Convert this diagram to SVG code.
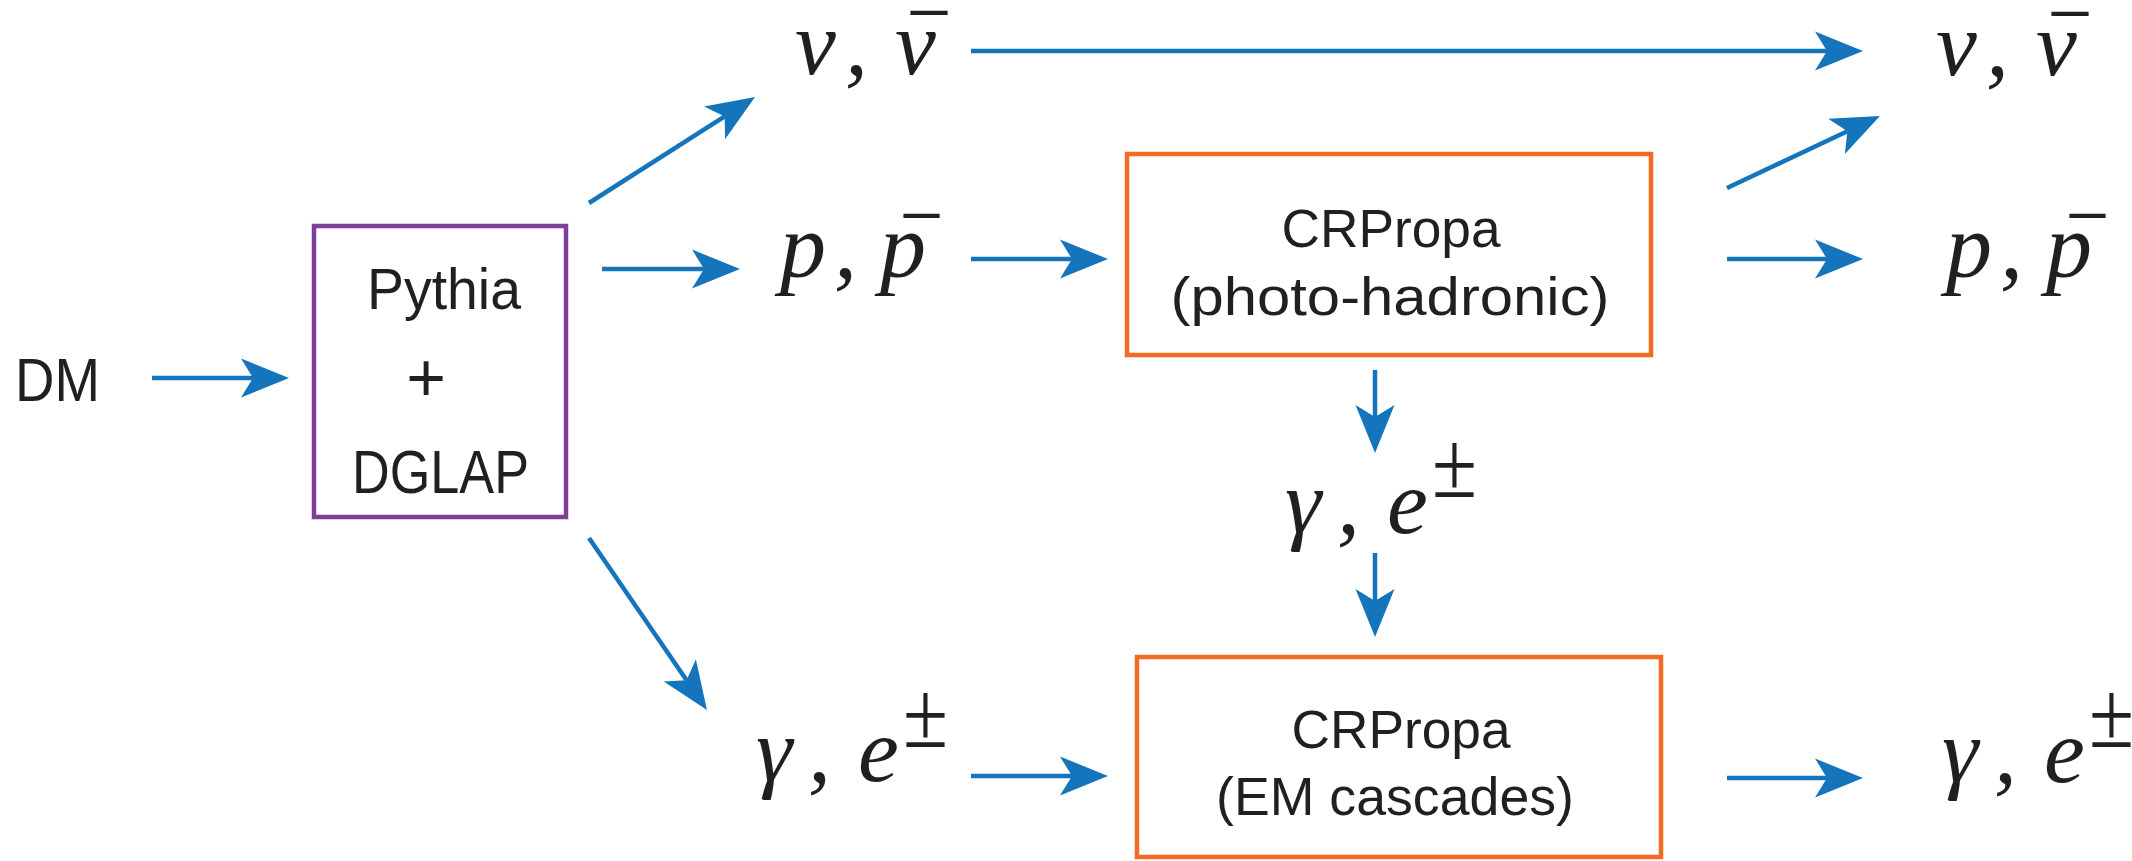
<svg xmlns="http://www.w3.org/2000/svg" width="2132" height="861" viewBox="0 0 2132 861">
<defs>
<style>
.sans{font-family:"Liberation Sans",Arial,sans-serif;fill:#231f20}
.m{font-family:"Liberation Serif","Times New Roman",serif;font-style:italic;font-size:92px;fill:#231f20}
.bar{font-style:normal}
.pm{font-style:normal;font-size:96px}
.box{fill:#fff;stroke-width:4.5}
.orange{stroke:#f26a24}
.purple{stroke:#7d3f98}
.c line{stroke:#1474bc;stroke-width:4.5;fill:none;marker-end:url(#ah)}
</style>
<marker id="ah" viewBox="-14 -21 52 42" refX="0" refY="0" markerWidth="52" markerHeight="42" markerUnits="userSpaceOnUse" orient="auto">
<path d="M36,0 L-12,-19.5 L0,0 L-12,19.5 Z" fill="#1474bc"/>
</marker>
</defs>
<rect width="2132" height="861" fill="#fff"/>

<g id="connectors" class="c">
<line x1="152" y1="378" x2="253" y2="378"/>
<line x1="589" y1="203" x2="724.7" y2="116.4"/>
<line x1="602" y1="269" x2="704" y2="269"/>
<line x1="971" y1="51" x2="1827" y2="51"/>
<line x1="971" y1="259" x2="1072" y2="259"/>
<line x1="1727" y1="188" x2="1847.4" y2="131.3"/>
<line x1="1727" y1="259" x2="1827" y2="259"/>
<line x1="1375" y1="370" x2="1375" y2="417"/>
<line x1="1375" y1="553" x2="1375" y2="601"/>
<line x1="589" y1="538" x2="686.6" y2="680.3"/>
<line x1="971" y1="776" x2="1072" y2="776"/>
<line x1="1727" y1="778" x2="1827" y2="778"/>
</g>

<g id="dm">
<text class="sans" x="15" y="401" font-size="61" textLength="85" lengthAdjust="spacingAndGlyphs">DM</text>
</g>

<g id="pythia">
<rect class="box purple" x="314" y="226" width="252" height="291"/>
<text class="sans" x="367" y="309" font-size="58" textLength="154" lengthAdjust="spacingAndGlyphs">Pythia</text>
<text class="sans" x="426" y="401" font-size="68" text-anchor="middle">+</text>
<text class="sans" x="352" y="493" font-size="62" textLength="177" lengthAdjust="spacingAndGlyphs">DGLAP</text>
</g>

<g id="nu-in">
<text class="m" y="74"><tspan x="795">ν</tspan><tspan x="845">,</tspan><tspan x="895">ν</tspan><tspan class="bar" x="911" y="80" textLength="36" lengthAdjust="spacingAndGlyphs">¯</tspan></text>
</g>

<g id="p-in">
<text class="m" y="277"><tspan x="780">p</tspan><tspan x="834">,</tspan><tspan x="880">p</tspan><tspan class="bar" x="904" y="283" textLength="35" lengthAdjust="spacingAndGlyphs">¯</tspan></text>
</g>

<g id="ge-in">
<text class="m" y="781"><tspan x="756">γ</tspan><tspan x="808">,</tspan><tspan x="858">e</tspan><tspan class="pm" x="903" y="747" textLength="45" lengthAdjust="spacingAndGlyphs">±</tspan></text>
</g>

<g id="crpropa-hadronic">
<rect class="box orange" x="1127" y="154" width="524" height="201"/>
<text class="sans" x="1391" y="247" font-size="53" text-anchor="middle" textLength="219" lengthAdjust="spacingAndGlyphs">CRPropa</text>
<text class="sans" x="1390" y="315" font-size="53" text-anchor="middle" textLength="439" lengthAdjust="spacingAndGlyphs">(photo-hadronic)</text>
</g>

<g id="ge-mid">
<text class="m" y="533"><tspan x="1285">γ</tspan><tspan x="1337">,</tspan><tspan x="1387">e</tspan><tspan class="pm" x="1432" y="497" textLength="45" lengthAdjust="spacingAndGlyphs">±</tspan></text>
</g>

<g id="crpropa-em">
<rect class="box orange" x="1137" y="657" width="524" height="200"/>
<text class="sans" x="1401" y="748" font-size="53" text-anchor="middle" textLength="219" lengthAdjust="spacingAndGlyphs">CRPropa</text>
<text class="sans" x="1395" y="815" font-size="53" text-anchor="middle" textLength="358" lengthAdjust="spacingAndGlyphs">(EM cascades)</text>
</g>

<g id="nu-out">
<text class="m" y="75"><tspan x="1936">ν</tspan><tspan x="1986">,</tspan><tspan x="2036">ν</tspan><tspan class="bar" x="2052" y="81" textLength="36" lengthAdjust="spacingAndGlyphs">¯</tspan></text>
</g>

<g id="p-out">
<text class="m" y="277"><tspan x="1946">p</tspan><tspan x="2000">,</tspan><tspan x="2046">p</tspan><tspan class="bar" x="2070" y="283" textLength="35" lengthAdjust="spacingAndGlyphs">¯</tspan></text>
</g>

<g id="ge-out">
<text class="m" y="782"><tspan x="1942">γ</tspan><tspan x="1994">,</tspan><tspan x="2044">e</tspan><tspan class="pm" x="2089" y="747" textLength="45" lengthAdjust="spacingAndGlyphs">±</tspan></text>
</g>
</svg>
